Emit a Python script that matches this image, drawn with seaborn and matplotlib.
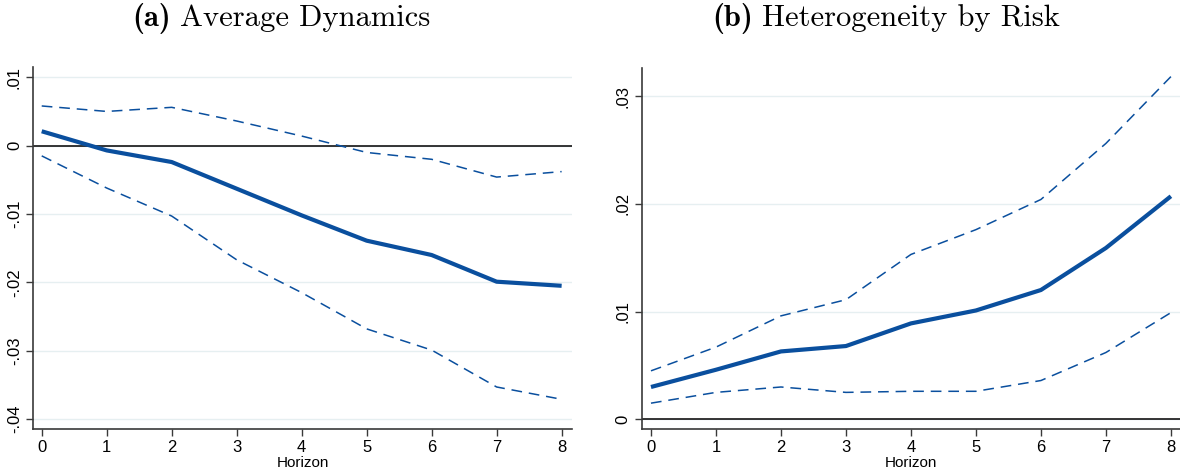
import matplotlib
matplotlib.use("Agg")
import matplotlib.pyplot as plt
import seaborn as sns
import numpy as np

horizon = [0, 1, 2, 3, 4, 5, 6, 7, 8]

# Panel (a): average dynamics
avg_coef = [0.0021, -0.0007, -0.0024, -0.0063, -0.0102, -0.0139, -0.0160, -0.0199, -0.0205]
avg_upper = [0.0058, 0.0050, 0.0056, 0.0036, 0.0014, -0.0010, -0.0020, -0.0046, -0.0038]
avg_lower = [-0.0015, -0.0062, -0.0103, -0.0167, -0.0215, -0.0268, -0.0299, -0.0353, -0.0371]

# Panel (b): heterogeneity by risk
risk_coef = [0.0030, 0.0046, 0.0063, 0.0068, 0.0089, 0.0101, 0.0120, 0.0159, 0.0207]
risk_upper = [0.0045, 0.0067, 0.0096, 0.0111, 0.0153, 0.0176, 0.0204, 0.0256, 0.0318]
risk_lower = [0.0015, 0.0025, 0.0030, 0.0025, 0.0026, 0.0026, 0.0036, 0.0062, 0.0099]

avg_yticks = [0.01, 0.0, -0.01, -0.02, -0.03, -0.04]
avg_ylabels = [".01", "0", "-.01", "-.02", "-.03", "-.04"]
risk_yticks = [0.0, 0.01, 0.02, 0.03]
risk_ylabels = ["0", ".01", ".02", ".03"]
xticks = horizon
xlabel = "Horizon"
panel_tags = ["(a)", "(b)"]
panel_names = ["Average Dynamics", "Heterogeneity by Risk"]

sns.set_theme(style="white")
plt.rcParams["font.family"] = ["Liberation Sans", "DejaVu Sans"]
plt.rcParams["axes.formatter.use_mathtext"] = True

line_color = "#0a4f9e"
grid_color = "#e6eff1"
spine_color = "#3a3a3a"

fig = plt.figure(figsize=(11.8, 4.74), dpi=100)
ax_a = fig.add_axes([0.02797, 0.09557, 0.4568, 0.7631])
ax_b = fig.add_axes([0.5438, 0.09557, 0.4562, 0.7603])

panels = [
    (ax_a, avg_coef, avg_upper, avg_lower, avg_yticks, avg_ylabels, (-0.0414, 0.0115), (-0.134, 8.16)),
    (ax_b, risk_coef, risk_upper, risk_lower, risk_yticks, risk_ylabels, (-0.00087, 0.03257), (-0.143, 8.14)),
]

for ax, coef, upper, lower, yt, yl, ylim, xlim in panels:
    for yv in yt:
        ax.axhline(yv, color=grid_color, lw=1.0, zorder=0)
    ax.axhline(0, color="black", lw=1.1, zorder=1)
    sns.lineplot(x=horizon, y=upper, ax=ax, color=line_color, lw=1.1,
                 linestyle=(0, (7, 4.5)), zorder=2)
    sns.lineplot(x=horizon, y=lower, ax=ax, color=line_color, lw=1.1,
                 linestyle=(0, (7, 4.5)), zorder=2)
    sns.lineplot(x=horizon, y=coef, ax=ax, color=line_color, lw=3.0,
                 zorder=3, solid_capstyle="butt")
    ax.set_xlim(*xlim)
    ax.set_ylim(*ylim)
    ax.set_xticks(xticks)
    ax.set_xticklabels([str(h) for h in xticks], fontsize=12, color="black")
    ax.set_yticks(yt)
    ax.set_yticklabels(yl, fontsize=12, rotation=90, va="center", color="black")
    ax.tick_params(axis="both", which="both", direction="out", length=5,
                   width=1.0, color=spine_color, pad=3, bottom=True, left=True)
    for side in ["top", "right"]:
        ax.spines[side].set_visible(False)
    for side in ["left", "bottom"]:
        ax.spines[side].set_color(spine_color)
        ax.spines[side].set_linewidth(1.2)
    ax.set_xlabel(xlabel, fontsize=11, labelpad=1, color="black")
    ax.set_ylabel("")
    ax.grid(False)

# Panel titles: bold tag followed by a roman name, centred as one block
title_centres = [281 / 1180, 886 / 1180]
title_y = 1 - 18 / 474
gap_px = 9
renderer = fig.canvas.get_renderer()
for tag, name, xc in zip(panel_tags, panel_names, title_centres):
    t_tag = fig.text(0, title_y, tag, ha="left", va="center", fontsize=22,
                     family="cmb10", color="black")
    t_name = fig.text(0, title_y, name, ha="left", va="center", fontsize=22,
                      family="cmr10", color="black")
    w_tag = t_tag.get_window_extent(renderer).width
    w_name = t_name.get_window_extent(renderer).width
    total = w_tag + gap_px + w_name
    fig_w = fig.get_figwidth() * fig.dpi
    x0 = xc * fig_w - total / 2
    t_tag.set_x(x0 / fig_w)
    t_name.set_x((x0 + w_tag + gap_px) / fig_w)

fig.savefig("out.png", dpi=100)
